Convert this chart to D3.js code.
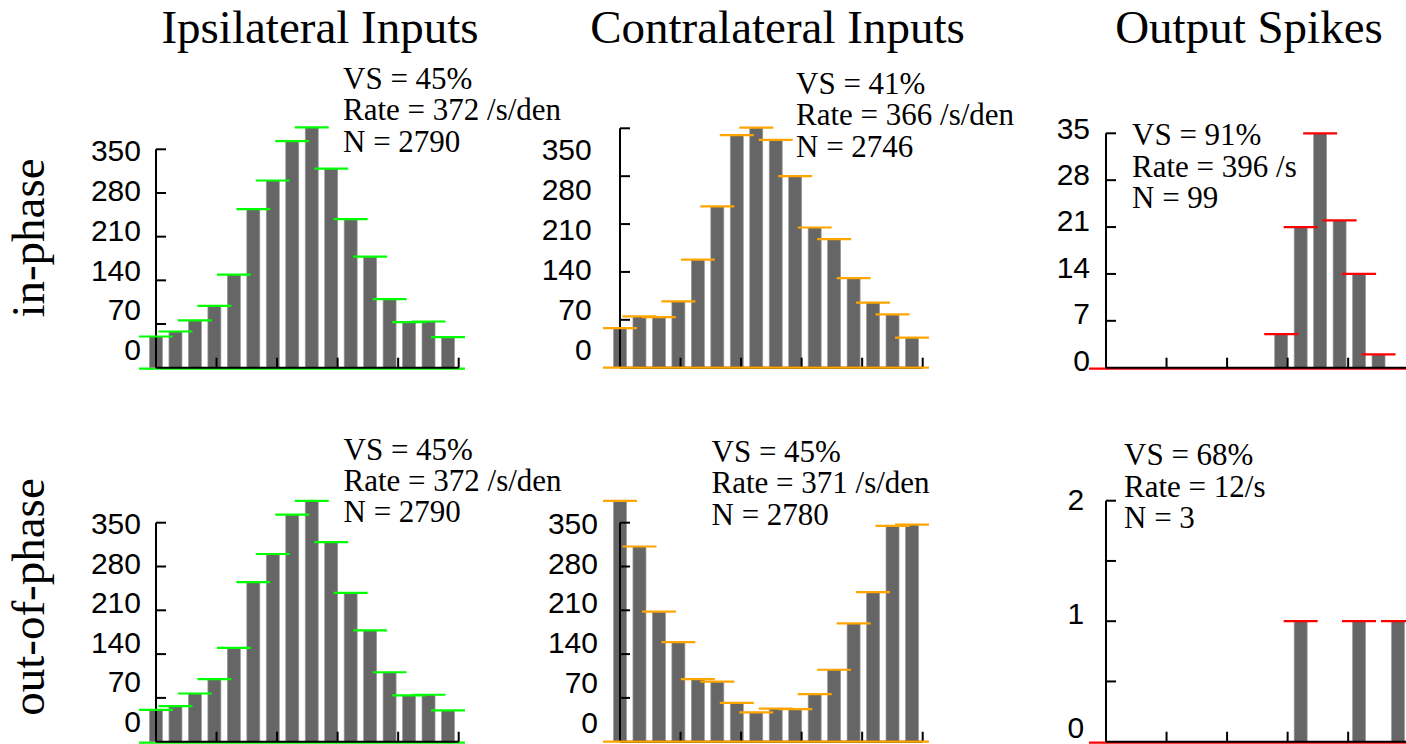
<!DOCTYPE html>
<html>
<head>
<meta charset="utf-8">
<script src="https://cdn.jsdelivr.net/npm/d3@7/dist/d3.min.js"></script>
<style>
  html, body { margin: 0; padding: 0; background: #fff; }
  svg { display: block; }
</style>
</head>
<body>
<svg id="chart" width="1406" height="744"></svg>
<script>
// ---------------- DATA ----------------
const columnTitles = ["Ipsilateral Inputs", "Contralateral Inputs", "Output Spikes"];
const rowTitles = ["in-phase", "out-of-phase"];
const phaseBins = d3.range(16); // 16 phase bins per cycle

const ipsiInPhase    = [50, 58, 76, 99, 149, 254, 300, 363, 385, 319, 238, 178, 110, 73, 74, 49];
const contraInPhase  = [58, 75, 74, 97, 158, 236, 340, 351, 333, 280, 205, 188, 131, 95, 78, 44];
const spikesInPhase  = [0, 0, 0, 0, 0, 0, 0, 0, 0, 5, 21, 35, 22, 14, 2, 0];
const ipsiOutPhase   = [51, 57, 77, 100, 150, 255, 300, 363, 385, 319, 238, 178, 111, 74, 75, 50];
const contraOutPhase = [385, 312, 208, 159, 100, 96, 62, 47, 53, 52, 76, 115, 189, 239, 345, 347];
const spikesOutPhase = [0, 0, 0, 0, 0, 0, 0, 0, 0, 0, 1, 0, 0, 1, 0, 1];

const inputTickLabels    = [0, 70, 140, 210, 280, 350];
const inputTickMarks     = [0, 70, 140, 210, 280, 350];
const spikeInTickLabels  = [0, 7, 14, 21, 28, 35];
const spikeInTickMarks   = [0, 7, 14, 21, 28, 35];
const spikeOutTickLabels = [0, 1, 2];
const spikeOutTickMarks  = [0, 0.5, 1, 1.5, 2];

const annIpsiIn    = ["VS = 45%", "Rate = 372 /s/den", "N = 2790"];
const annContraIn  = ["VS = 41%", "Rate = 366 /s/den", "N = 2746"];
const annSpikesIn  = ["VS = 91%", "Rate = 396 /s", "N = 99"];
const annIpsiOut   = ["VS = 45%", "Rate = 372 /s/den", "N = 2790"];
const annContraOut = ["VS = 45%", "Rate = 371 /s/den", "N = 2780"];
const annSpikesOut = ["VS = 68%", "Rate = 12/s", "N = 3"];

// ---------------- LAYOUT ----------------
const GREEN = "#00ff00", ORANGE = "#ffa500", RED = "#ff0000", BAR = "#666666";
const panels = [
  { values: ipsiInPhase, ann: annIpsiIn, color: GREEN, ax: 156, y0: 367.7, yMax: 350, yTop: 149.3,
    labels: inputTickLabels, marks: inputTickMarks, labBottom: 349.5, labTop: 150, labRight: 141,
    annX: 343, annY: [88.5, 120.3, 152.3], baseOver: false },
  { values: contraInPhase, ann: annContraIn, color: ORANGE, ax: 620, y0: 367.7, yMax: 350, yTop: 128.3,
    labels: inputTickLabels, marks: inputTickMarks, labBottom: 349.5, labTop: 149.5, labRight: 591.7,
    annX: 796, annY: [93.5, 125, 156.7], baseOver: true },
  { values: spikesInPhase, ann: annSpikesIn, color: RED, ax: 1106, y0: 367.7, yMax: 35, yTop: 133.3,
    labels: spikeInTickLabels, marks: spikeInTickMarks, labBottom: 360, labTop: 127.7, labRight: 1090,
    annX: 1132, annY: [145, 176.5, 208], baseOver: false },
  { values: ipsiOutPhase, ann: annIpsiOut, color: GREEN, ax: 156, y0: 741.7, yMax: 350, yTop: 522.7,
    labels: inputTickLabels, marks: inputTickMarks, labBottom: 721, labTop: 523.3, labRight: 141,
    annX: 343.5, annY: [459.5, 491, 522], baseOver: false },
  { values: contraOutPhase, ann: annContraOut, color: ORANGE, ax: 620, y0: 741.7, yMax: 350, yTop: 522.7,
    labels: inputTickLabels, marks: inputTickMarks, labBottom: 721.7, labTop: 523.3, labRight: 598,
    annX: 711.5, annY: [461.7, 493.3, 524.5], baseOver: true },
  { values: spikesOutPhase, ann: annSpikesOut, color: RED, ax: 1106, y0: 741.7, yMax: 2, yTop: 500.7,
    labels: spikeOutTickLabels, marks: spikeOutTickMarks, labBottom: 727.3, labTop: 499.2, labRight: 1084.3,
    annX: 1124, annY: [465, 496.7, 528.3], baseOver: false }
];

const AXIS_LEN = 302.7;     // x-axis length in px
const BIN_SPAN = 15.55;     // bins spanned by the x-axis
const BAR_W = 13;
const ERR_HALF = 17;
const TICK_LEN = 10;

const svg = d3.select("#chart");

// Column titles
const titleX = [320, 777.5, 1249];
svg.selectAll("text.coltitle").data(columnTitles).join("text")
  .attr("class", "coltitle")
  .attr("x", (d, i) => titleX[i]).attr("y", 43)
  .attr("text-anchor", "middle")
  .attr("font-family", "'Liberation Serif', 'Times New Roman', serif")
  .attr("font-size", 47).attr("fill", "#000")
  .text(d => d);

// Row titles
const rowY = [238, 597];
svg.selectAll("text.rowtitle").data(rowTitles).join("text")
  .attr("class", "rowtitle")
  .attr("transform", (d, i) => `translate(44,${rowY[i]}) rotate(-90)`)
  .attr("text-anchor", "middle")
  .attr("font-family", "'Liberation Serif', 'Times New Roman', serif")
  .attr("font-size", 47).attr("fill", "#000")
  .text(d => d);

panels.forEach(p => {
  const g = svg.append("g");
  const x = d3.scaleLinear().domain([0, BIN_SPAN]).range([p.ax, p.ax + AXIS_LEN]);
  const y = d3.scaleLinear().domain([0, p.yMax]).range([p.y0, p.yTop]);
  const yLab = d3.scaleLinear().domain([0, p.yMax]).range([p.labBottom, p.labTop]);

  // baseline error line (under axis)
  const drawBase = () => g.append("line")
    .attr("x1", x(phaseBins[0]) - ERR_HALF).attr("x2", x(phaseBins[phaseBins.length - 1]) + ERR_HALF)
    .attr("y1", y(0) + (p.baseOver ? 0 : 1)).attr("y2", y(0) + (p.baseOver ? 0 : 1))
    .attr("stroke", p.color).attr("stroke-width", 2.2);
  if (!p.baseOver) drawBase();

  // bars
  g.selectAll("rect.bar").data(phaseBins.filter(i => p.values[i] > 0)).join("rect")
    .attr("class", "bar")
    .attr("x", i => x(i) - BAR_W / 2).attr("width", BAR_W)
    .attr("y", i => y(p.values[i])).attr("height", i => y(0) - y(p.values[i]))
    .attr("fill", BAR).attr("stroke", "#9a9a9a").attr("stroke-width", 0.7);

  // axes
  const xTicks = d3.range(6).map(k => k * BIN_SPAN / 5);
  const axisG = g.append("g").attr("stroke", "#000").attr("stroke-width", 2).attr("fill", "none");
  axisG.append("line").attr("x1", p.ax).attr("x2", p.ax + AXIS_LEN).attr("y1", y(0)).attr("y2", y(0));
  axisG.append("line").attr("x1", p.ax).attr("x2", p.ax).attr("y1", y(0)).attr("y2", y(p.yMax));
  axisG.selectAll("line.xt").data(xTicks.slice(1)).join("line").attr("class", "xt")
    .attr("x1", d => x(d)).attr("x2", d => x(d)).attr("y1", y(0)).attr("y2", y(0) - TICK_LEN);
  axisG.selectAll("line.yt").data(p.marks.slice(1)).join("line").attr("class", "yt")
    .attr("x1", p.ax).attr("x2", p.ax + TICK_LEN).attr("y1", d => y(d)).attr("y2", d => y(d));

  if (p.baseOver) drawBase();

  // error-bar tops
  g.selectAll("line.err").data(phaseBins.filter(i => p.values[i] > 0)).join("line")
    .attr("class", "err")
    .attr("x1", i => x(i) - ERR_HALF).attr("x2", i => x(i) + ERR_HALF)
    .attr("y1", i => y(p.values[i])).attr("y2", i => y(p.values[i]))
    .attr("stroke", p.color).attr("stroke-width", 2.2);

  // tick labels
  g.selectAll("text.yl").data(p.labels).join("text").attr("class", "yl")
    .attr("x", p.labRight).attr("y", d => yLab(d))
    .attr("dy", "0.36em")
    .attr("text-anchor", "end")
    .attr("font-family", "'Liberation Sans', Arial, Helvetica, sans-serif")
    .attr("font-size", 30).attr("fill", "#000")
    .text(d => d);

  // annotations
  g.selectAll("text.ann").data(p.ann).join("text").attr("class", "ann")
    .attr("x", p.annX).attr("y", (d, i) => p.annY[i])
    .attr("font-family", "'Liberation Serif', 'Times New Roman', serif")
    .attr("font-size", 31).attr("fill", "#000")
    .text(d => d);
});
</script>
</body>
</html>
